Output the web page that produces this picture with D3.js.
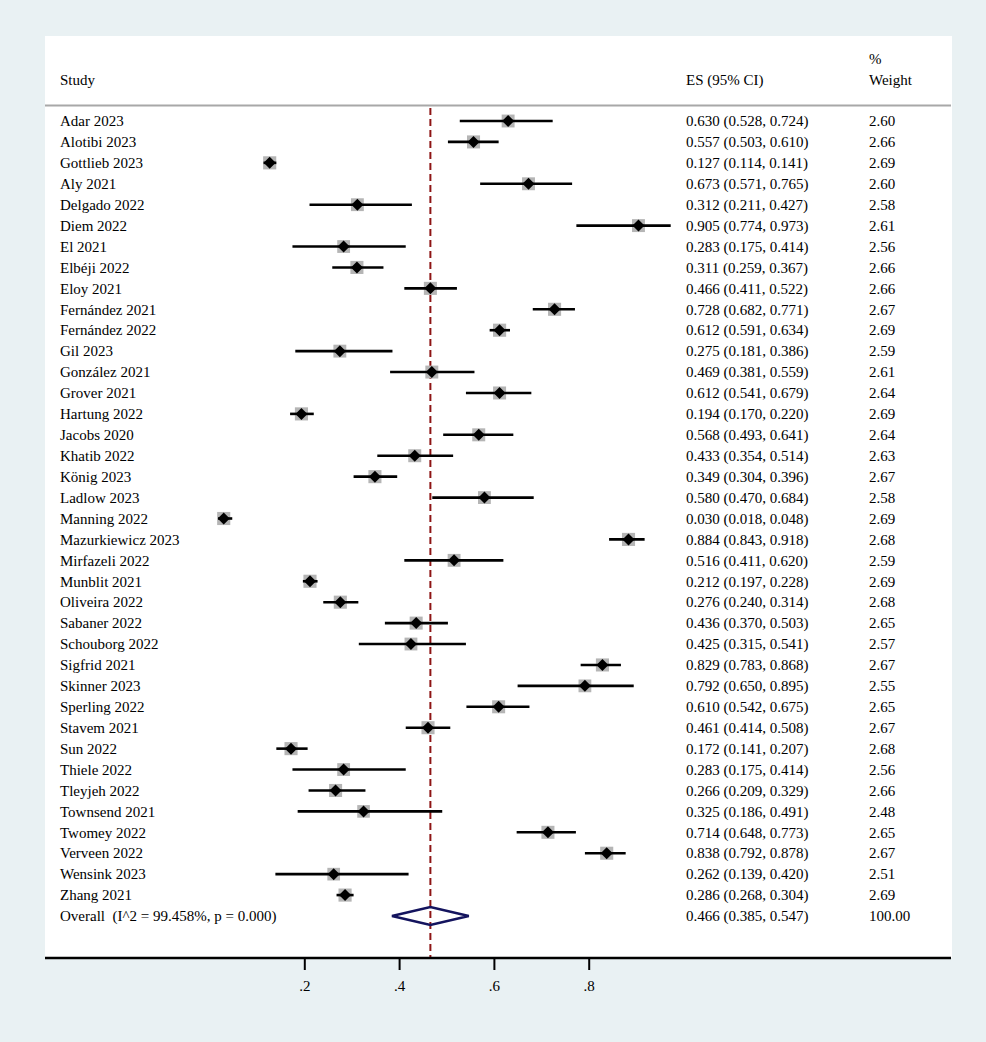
<!DOCTYPE html>
<html><head><meta charset="utf-8">
<script src="https://cdn.jsdelivr.net/npm/d3@7"></script>
<style>html,body{margin:0;padding:0;background:#e9f1f3;}</style>
</head><body>
<script>
const studies = ["Adar 2023","Alotibi 2023","Gottlieb 2023","Aly 2021","Delgado 2022","Diem 2022","El 2021","Elbéji 2022","Eloy 2021","Fernández 2021","Fernández 2022","Gil 2023","González 2021","Grover 2021","Hartung 2022","Jacobs 2020","Khatib 2022","König 2023","Ladlow 2023","Manning 2022","Mazurkiewicz 2023","Mirfazeli 2022","Munblit 2021","Oliveira 2022","Sabaner 2022","Schouborg 2022","Sigfrid 2021","Skinner 2023","Sperling 2022","Stavem 2021","Sun 2022","Thiele 2022","Tleyjeh 2022","Townsend 2021","Twomey 2022","Verveen 2022","Wensink 2023","Zhang 2021"];
const es = [0.630,0.557,0.127,0.673,0.312,0.905,0.283,0.311,0.466,0.728,0.612,0.275,0.469,0.612,0.194,0.568,0.433,0.349,0.580,0.030,0.884,0.516,0.212,0.276,0.436,0.425,0.829,0.792,0.610,0.461,0.172,0.283,0.266,0.325,0.714,0.838,0.262,0.286];
const lo = [0.528,0.503,0.114,0.571,0.211,0.774,0.175,0.259,0.411,0.682,0.591,0.181,0.381,0.541,0.170,0.493,0.354,0.304,0.470,0.018,0.843,0.411,0.197,0.240,0.370,0.315,0.783,0.650,0.542,0.414,0.141,0.175,0.209,0.186,0.648,0.792,0.139,0.268];
const hi = [0.724,0.610,0.141,0.765,0.427,0.973,0.414,0.367,0.522,0.771,0.634,0.386,0.559,0.679,0.220,0.641,0.514,0.396,0.684,0.048,0.918,0.620,0.228,0.314,0.503,0.541,0.868,0.895,0.675,0.508,0.207,0.414,0.329,0.491,0.773,0.878,0.420,0.304];
const weights = [2.60,2.66,2.69,2.60,2.58,2.61,2.56,2.66,2.66,2.67,2.69,2.59,2.61,2.64,2.69,2.64,2.63,2.67,2.58,2.69,2.68,2.59,2.69,2.68,2.65,2.57,2.67,2.55,2.65,2.67,2.68,2.56,2.66,2.48,2.65,2.67,2.51,2.69];
const overallLabel = "Overall  (I^2 = 99.458%, p = 0.000)";
const overall = {es:0.466, lo:0.385, hi:0.547, w:"100.00"};
const xTicks = [0.2,0.4,0.6,0.8];

const W = 986, H = 1042;
const svg = d3.select("body").append("svg").attr("width",W).attr("height",H)
  .style("font-family","'Liberation Serif','Times New Roman',serif");
svg.append("rect").attr("width",W).attr("height",H).attr("fill","#e9f1f3");
svg.append("rect").attr("x",45).attr("y",36).attr("width",907).attr("height",922).attr("fill","#fff");

const x = d3.scaleLinear().domain([0.2,0.8]).range([304.3,588.7]);
const nRows = studies.length + 1;
const y = d3.scaleLinear().domain([0, nRows-1]).range([121, 916]);

// header
const fs = 15;
svg.append("text").attr("x",60).attr("y",80).attr("dy","0.35em").attr("font-size",fs).text("Study");
svg.append("text").attr("x",686).attr("y",80).attr("dy","0.35em").attr("font-size",fs).text("ES (95% CI)");
svg.append("text").attr("x",869).attr("y",59).attr("dy","0.35em").attr("font-size",fs).text("%");
svg.append("text").attr("x",869).attr("y",80).attr("dy","0.35em").attr("font-size",fs).text("Weight");
svg.append("line").attr("x1",45).attr("x2",951).attr("y1",105.5).attr("y2",105.5).attr("stroke","#a8a8a8").attr("stroke-width",2);

// overall dashed line
svg.append("line").attr("x1",x(overall.es)).attr("x2",x(overall.es)).attr("y1",108).attr("y2",958)
  .attr("stroke","#8e1515").attr("stroke-width",2).attr("stroke-dasharray","7,4");

const data = studies.map((s,i)=>({s, es:es[i], lo:lo[i], hi:hi[i], w:weights[i], i}));
const g = svg.append("g");
const rows = g.selectAll("g.row").data(data).enter().append("g").attr("class","row");
rows.append("rect")
  .attr("x",d=>x(d.es)-4*Math.sqrt(d.w)).attr("y",d=>y(d.i)-4*Math.sqrt(d.w))
  .attr("width",d=>8*Math.sqrt(d.w)).attr("height",d=>8*Math.sqrt(d.w)).attr("fill","#b5b5b5");
rows.append("line").attr("x1",d=>x(d.lo)).attr("x2",d=>x(d.hi)).attr("y1",d=>y(d.i)).attr("y2",d=>y(d.i))
  .attr("stroke","#000").attr("stroke-width",2.6);
rows.append("path").attr("d",d=>{const cx=x(d.es), cy=y(d.i); return `M${cx-6},${cy}L${cx},${cy-6}L${cx+6},${cy}L${cx},${cy+6}Z`;})
  .attr("fill","#000");
rows.append("text").attr("x",60).attr("y",d=>y(d.i)).attr("dy","0.35em").attr("font-size",fs).text(d=>d.s);
rows.append("text").attr("x",686).attr("y",d=>y(d.i)).attr("dy","0.35em").attr("font-size",fs)
  .text(d=>`${d.es.toFixed(3)} (${d.lo.toFixed(3)}, ${d.hi.toFixed(3)})`);
rows.append("text").attr("x",869).attr("y",d=>y(d.i)).attr("dy","0.35em").attr("font-size",fs).text(d=>d.w.toFixed(2));

// overall row
const oy = y(nRows-1);
svg.append("path").attr("d",`M${x(overall.lo)},${oy}L${x(overall.es)},${oy-9}L${x(overall.hi)},${oy}L${x(overall.es)},${oy+9}Z`)
  .attr("fill","none").attr("stroke","#14145e").attr("stroke-width",2.6);
svg.append("text").attr("x",60).attr("y",oy).attr("dy","0.35em").attr("font-size",fs).attr("xml:space","preserve").style("white-space","pre").text(overallLabel);
svg.append("text").attr("x",686).attr("y",oy).attr("dy","0.35em").attr("font-size",fs)
  .text(`${overall.es.toFixed(3)} (${overall.lo.toFixed(3)}, ${overall.hi.toFixed(3)})`);
svg.append("text").attr("x",869).attr("y",oy).attr("dy","0.35em").attr("font-size",fs).text(overall.w);

// axis
const axisG = svg.append("g").attr("transform","translate(0,958)");
axisG.call(d3.axisBottom(x).tickValues(xTicks).tickSize(12).tickPadding(10)
  .tickFormat(d=>d3.format(".1f")(d).replace(/^0/,"")));
axisG.select(".domain").remove();
axisG.selectAll(".tick line").attr("stroke","#000").attr("stroke-width",2);
axisG.selectAll(".tick text").attr("font-size",fs).attr("font-family","'Liberation Serif','Times New Roman',serif").attr("fill","#000");
svg.append("line").attr("x1",45).attr("x2",951).attr("y1",958).attr("y2",958).attr("stroke","#000").attr("stroke-width",2.5);
</script>
</body></html>
